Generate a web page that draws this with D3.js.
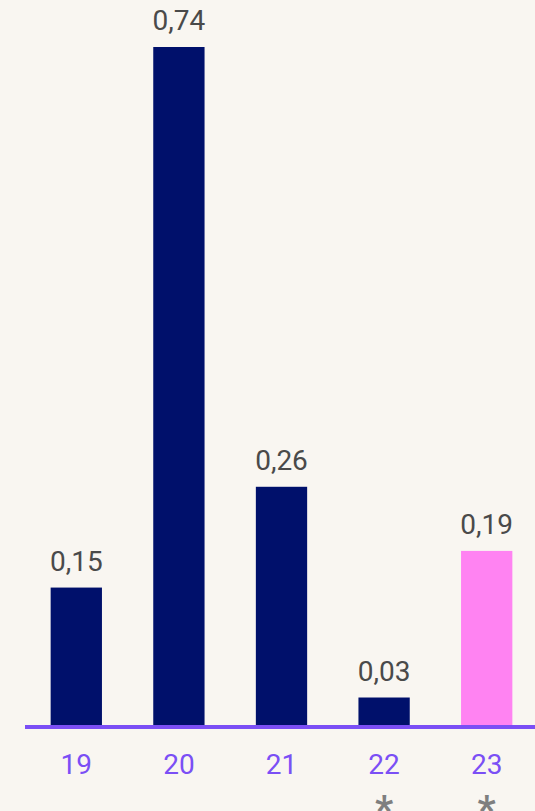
<!DOCTYPE html>
<html>
<head>
<meta charset="utf-8">
<script src="https://cdn.jsdelivr.net/npm/d3@7"></script>
<style>
  html, body { margin: 0; padding: 0; background: #f9f6f1; }
  svg { display: block; font-family: Roboto, "Noto Sans", sans-serif; }
</style>
</head>
<body>
<div id="chart"></div>
<script>
// data
var years = ["19", "20", "21", "22", "23"];
var values = [0.15, 0.74, 0.26, 0.03, 0.19];
var valueLabels = ["0,15", "0,74", "0,26", "0,03", "0,19"];
var marks = ["", "", "", "*", "*"];
var highlight = ["23"];

var width = 535, height = 811;
var baseY = 725;

var svg = d3.select("#chart").append("svg")
    .attr("width", width)
    .attr("height", height);

var x = d3.scaleBand()
    .domain(years)
    .range([25, 538])
    .paddingInner(0.5)
    .paddingOuter(0.25);

var y = d3.scaleLinear()
    .domain([0, 0.74])
    .range([baseY, 47]);

// bars
svg.selectAll(".bar")
    .data(years)
  .enter().append("rect")
    .attr("class", "bar")
    .attr("x", function(d) { return x(d); })
    .attr("width", x.bandwidth())
    .attr("y", function(d, i) { return y(values[i]); })
    .attr("height", function(d, i) { return baseY - y(values[i]); })
    .attr("fill", function(d) { return highlight.indexOf(d) >= 0 ? "#ff83f2" : "#00106b"; });

// value labels
svg.selectAll(".val")
    .data(years)
  .enter().append("text")
    .attr("class", "val")
    .attr("x", function(d) { return x(d) + x.bandwidth() / 2; })
    .attr("y", function(d, i) { return y(values[i]) - 17; })
    .attr("text-anchor", "middle")
    .attr("font-size", 28)
    .attr("fill", "#4a4a4a")
    .text(function(d, i) { return valueLabels[i]; });

// baseline
svg.append("line")
    .attr("x1", 25)
    .attr("x2", width)
    .attr("y1", baseY + 2)
    .attr("y2", baseY + 2)
    .attr("stroke", "#7b4ff5")
    .attr("stroke-width", 4);

// axis labels
var xAxis = d3.axisBottom(x).tickSize(0).tickPadding(0);
var ax = svg.append("g")
    .attr("transform", "translate(0," + baseY + ")")
    .call(xAxis);
ax.select(".domain").remove();
ax.selectAll("text")
    .attr("y", 49)
    .attr("dy", 0)
    .attr("font-size", 28)
    .attr("font-family", "Roboto, sans-serif")
    .attr("fill", "#7b4ff5");

// asterisks (cut by the bottom edge, as in the source)
svg.selectAll(".mark")
    .data(years)
  .enter().append("text")
    .attr("class", "mark")
    .attr("x", function(d) { return x(d) + x.bandwidth() / 2; })
    .attr("y", 824)
    .attr("text-anchor", "middle")
    .attr("font-size", 40)
    .attr("font-weight", "bold")
    .attr("fill", "#7f7f7f")
    .text(function(d, i) { return marks[i]; });
</script>
</body>
</html>
